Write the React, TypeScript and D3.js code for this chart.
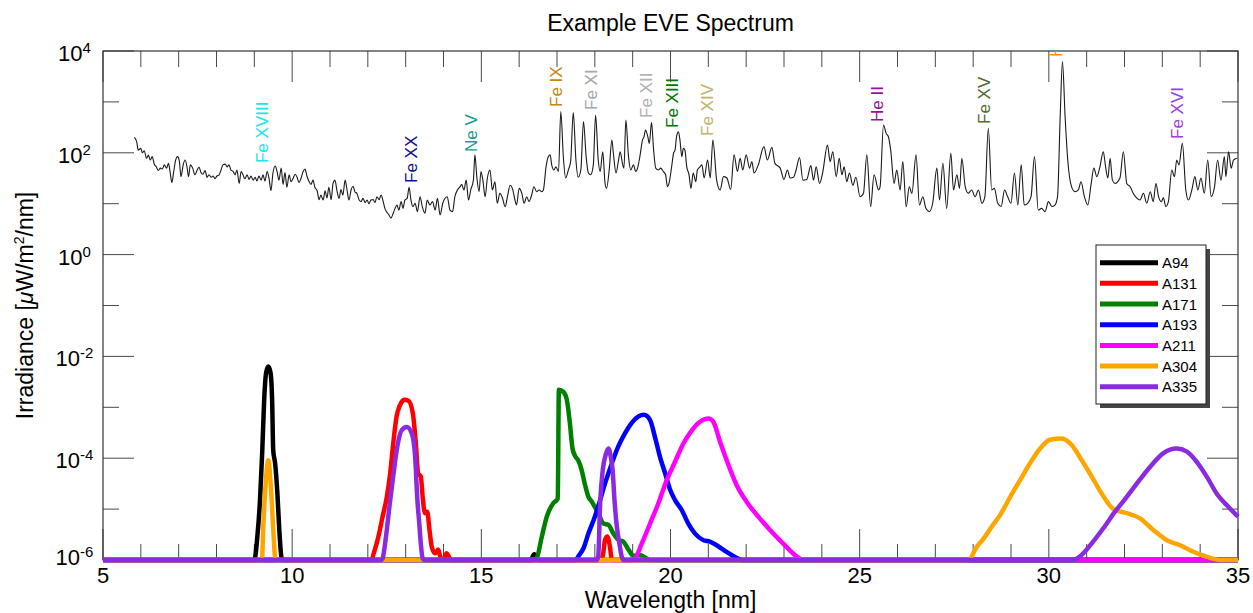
import React from 'react';
import * as d3 from 'd3';

const WIDTH = 1253;
const HEIGHT = 613;
const PLOT = { left: 103, right: 1238, top: 51, bottom: 560 };
const FONT = "'Liberation Sans', Arial, Helvetica, sans-serif";

const title = 'Example EVE Spectrum';
const xLabel = 'Wavelength [nm]';
const xDomain: [number, number] = [5, 35];
const yDomain: [number, number] = [1e-6, 1e4];
const xMajorTicks = [5, 10, 15, 20, 25, 30, 35];
const xMinorTicks = [6, 7, 8, 9, 11, 12, 13, 14, 16, 17, 18, 19, 21, 22, 23, 24, 26, 27, 28, 29, 31, 32, 33, 34];
const yMajorExponents = [4, 2, 0, -2, -4, -6];
const yMinorExponents = [3, 1, -1, -3, -5];

// EVE spectrum: [wavelength nm, irradiance uW/m^2/nm]
const spectrum: [number, number][] = [
  [5.83, 201], [5.89, 165], [5.93, 113], [6.0, 122], [6.04, 100], [6.09, 110], [6.15, 78], [6.2, 90], [6.25, 72], [6.3, 84],
  [6.36, 58], [6.41, 53], [6.46, 45], [6.52, 50], [6.57, 48], [6.62, 58], [6.68, 50], [6.73, 62], [6.78, 39], [6.82, 26],
  [6.87, 43], [6.92, 72], [6.97, 84], [7.02, 67], [7.06, 34], [7.12, 58], [7.17, 72], [7.22, 53], [7.26, 34], [7.31, 58],
  [7.37, 50], [7.43, 37], [7.49, 46], [7.54, 52], [7.59, 41], [7.64, 38], [7.7, 45], [7.75, 33], [7.8, 37], [7.86, 33],
  [7.91, 35], [7.96, 31], [8.01, 35], [8.07, 37], [8.12, 46], [8.17, 58], [8.23, 60], [8.28, 53], [8.33, 58], [8.38, 46],
  [8.44, 43], [8.49, 37], [8.54, 46], [8.6, 25], [8.65, 43], [8.7, 37], [8.75, 31], [8.81, 37], [8.86, 30], [8.91, 35],
  [8.97, 29], [9.02, 33], [9.07, 28], [9.12, 35], [9.18, 29], [9.23, 37], [9.28, 28], [9.34, 43], [9.39, 31], [9.44, 18],
  [9.49, 39], [9.55, 55], [9.6, 43], [9.65, 29], [9.71, 50], [9.76, 24], [9.81, 41], [9.86, 21], [9.92, 37], [9.97, 27],
  [10.02, 31], [10.08, 38], [10.13, 33], [10.18, 26], [10.23, 31], [10.29, 43], [10.34, 48], [10.39, 35], [10.45, 27], [10.5, 24],
  [10.55, 29], [10.6, 21], [10.66, 18], [10.71, 12], [10.76, 14.8], [10.82, 11.8], [10.87, 18], [10.92, 13], [10.97, 21], [11.03, 12],
  [11.08, 25], [11.13, 29], [11.19, 17], [11.24, 12.7], [11.29, 19], [11.34, 14.8], [11.4, 29], [11.45, 18.6], [11.5, 11.8], [11.56, 19],
  [11.61, 22], [11.66, 17], [11.71, 16], [11.77, 11.8], [11.82, 11], [11.87, 12.7], [11.93, 10.5], [11.98, 11.8], [12.03, 10], [12.08, 11.8],
  [12.14, 12], [12.19, 10.5], [12.24, 13.7], [12.3, 12], [12.35, 14.8], [12.4, 11.5], [12.45, 8.1], [12.51, 6.7], [12.56, 6.0], [12.61, 5.2],
  [12.67, 6.5], [12.72, 8.1], [12.77, 9.4], [12.82, 7.5], [12.88, 11], [12.93, 8.1], [12.98, 11.8], [13.04, 12.7], [13.09, 21], [13.14, 11.8],
  [13.19, 8.7], [13.25, 10.2], [13.31, 7.0], [13.38, 13.7], [13.44, 8.7], [13.51, 6.5], [13.57, 11.8], [13.64, 9.4], [13.71, 11], [13.78, 7.5],
  [13.84, 12.8], [13.91, 6.0], [13.98, 10.2], [14.04, 12.8], [14.1, 13.7], [14.17, 7.5], [14.24, 7.0], [14.3, 13.7], [14.37, 18.6], [14.44, 21.6],
  [14.48, 24], [14.54, 18.6], [14.6, 29], [14.66, 11.8], [14.72, 18.6], [14.79, 29], [14.83, 91], [14.88, 34], [14.94, 17.2], [14.99, 43],
  [15.04, 29], [15.1, 13.7], [15.16, 32], [15.23, 46], [15.29, 18.6], [15.36, 27], [15.42, 10.2], [15.49, 16], [15.56, 12.8], [15.63, 8.7],
  [15.69, 13.7], [15.76, 23], [15.82, 20], [15.89, 11.8], [15.93, 9.4], [16.0, 20], [16.07, 16], [16.13, 10.2], [16.2, 13.7], [16.26, 11],
  [16.33, 14.8], [16.39, 21.6], [16.46, 17.2], [16.53, 18.6], [16.6, 17.2], [16.64, 18.6], [16.71, 53], [16.77, 84], [16.82, 91], [16.86, 58],
  [16.92, 46], [16.97, 53], [17.04, 43], [17.1, 643], [17.17, 78], [17.23, 32], [17.3, 46], [17.36, 67], [17.43, 615], [17.5, 72],
  [17.56, 33], [17.63, 46], [17.7, 409], [17.77, 84], [17.83, 40], [17.89, 37], [17.96, 58], [18.02, 553], [18.09, 72], [18.14, 43],
  [18.21, 105], [18.27, 25], [18.31, 20], [18.38, 46], [18.45, 178], [18.49, 98], [18.56, 40], [18.62, 67], [18.67, 105], [18.73, 62],
  [18.77, 50], [18.82, 441], [18.89, 84], [18.95, 46], [19.02, 58], [19.08, 43], [19.13, 50], [19.19, 84], [19.26, 178], [19.3, 207],
  [19.34, 281], [19.4, 207], [19.44, 153], [19.5, 397], [19.55, 122], [19.61, 50], [19.68, 46], [19.74, 50], [19.81, 43], [19.87, 37],
  [19.92, 21.6], [19.97, 27], [20.03, 53], [20.08, 98], [20.12, 113], [20.16, 207], [20.21, 260], [20.25, 178], [20.3, 84], [20.34, 122],
  [20.38, 113], [20.43, 53], [20.49, 37], [20.54, 20], [20.6, 40], [20.67, 27], [20.71, 46], [20.78, 53], [20.83, 58], [20.89, 32],
  [20.98, 72], [21.05, 32], [21.12, 178], [21.22, 29], [21.31, 18.6], [21.4, 34], [21.49, 32], [21.59, 19], [21.68, 91], [21.77, 43],
  [21.84, 78], [21.91, 46], [22.0, 91], [22.09, 50], [22.15, 67], [22.21, 40], [22.32, 58], [22.47, 132], [22.56, 72], [22.68, 128],
  [22.76, 62], [22.9, 50], [23.0, 30], [23.09, 46], [23.16, 32], [23.25, 33], [23.32, 46], [23.41, 81], [23.5, 29], [23.6, 30],
  [23.71, 56], [23.78, 29], [23.85, 53], [23.94, 25], [24.02, 40], [24.15, 142], [24.22, 67], [24.29, 105], [24.38, 34], [24.46, 78],
  [24.53, 37], [24.59, 53], [24.66, 27], [24.73, 40], [24.82, 23], [24.9, 33], [25.01, 13.7], [25.1, 16], [25.19, 91], [25.29, 8.7],
  [25.38, 37], [25.5, 18.6], [25.54, 21.6], [25.63, 352], [25.7, 241], [25.76, 207], [25.82, 113], [25.91, 25], [25.98, 46], [26.07, 18.6],
  [26.14, 67], [26.23, 8.7], [26.31, 21.6], [26.38, 16], [26.49, 91], [26.58, 9.4], [26.67, 13.7], [26.75, 8.1], [26.84, 7.0], [26.93, 10.2],
  [27.04, 50], [27.11, 11.8], [27.2, 62], [27.3, 8.1], [27.41, 98], [27.48, 18.6], [27.57, 37], [27.64, 20], [27.7, 78], [27.79, 21.6],
  [27.87, 16], [27.96, 18.6], [28.05, 13.7], [28.14, 18.6], [28.23, 10.2], [28.31, 13.8], [28.4, 303], [28.49, 18.6], [28.56, 20], [28.65, 10.2],
  [28.74, 8.8], [28.83, 18.6], [28.91, 13.8], [29.0, 10.2], [29.09, 40], [29.18, 9.4], [29.27, 58], [29.35, 9.4], [29.44, 10.2], [29.53, 13.8],
  [29.62, 84], [29.72, 7.5], [29.81, 8.1], [29.9, 7.0], [29.99, 11], [30.08, 8.8], [30.16, 9.4], [30.23, 13.8], [30.3, 513], [30.36, 6180],
  [30.43, 513], [30.5, 72], [30.6, 21.6], [30.69, 17.2], [30.78, 18.6], [30.85, 27], [30.94, 13.8], [31.03, 9.4], [31.12, 25], [31.19, 50],
  [31.27, 34], [31.35, 53], [31.44, 105], [31.5, 53], [31.56, 32], [31.62, 78], [31.68, 29], [31.75, 25], [31.88, 32], [31.97, 105],
  [32.06, 25], [32.15, 21.6], [32.23, 16], [32.32, 13], [32.41, 11.8], [32.5, 16], [32.59, 10.2], [32.68, 17.2], [32.76, 11], [32.83, 25],
  [32.9, 13.8], [32.97, 11], [33.03, 13], [33.09, 8.8], [33.16, 11], [33.25, 46], [33.32, 34], [33.38, 72], [33.44, 58], [33.53, 153],
  [33.62, 18.6], [33.69, 11.8], [33.78, 18.6], [33.86, 34], [33.94, 18.6], [34.02, 32], [34.11, 16], [34.2, 72], [34.29, 13.8], [34.38, 21.6],
  [34.46, 72], [34.55, 29], [34.64, 84], [34.68, 34], [34.75, 105], [34.82, 50], [34.88, 72], [34.97, 78],
];

// Ion line annotations
const ionNames = ['Fe XVIII', 'Fe XX', 'Ne V', 'Fe IX', 'Fe XI', 'Fe XII', 'Fe XIII', 'Fe XIV', 'He II', 'Fe XV', 'He II', 'Fe XVI'];
const ionNm = [9.36, 13.3, 14.89, 17.13, 18.06, 19.51, 20.2, 21.12, 25.62, 28.45, 30.35, 33.55];
const ionIrr = [63, 25.5, 104, 794, 693, 483, 307, 214, 403, 368, 7620, 187];
const ionColors = ['#22e4ee', '#12128c', '#1a9c96', '#c8880e', '#a8a8a8', '#b2b2b2', '#067506', '#bdb76b', '#9a109a', '#556b2f', '#ff8c00', '#a040e4'];

// AIA channel responses: [wavelength nm, value]
const bandNames = ['A94', 'A131', 'A171', 'A193', 'A211', 'A304', 'A335'];
const bandColors = ['#000000', '#ff0000', '#008000', '#0000ff', '#ff00ff', '#ffa500', '#8a2be2'];

const a94: [number, number][] = [
  [5, 1e-6], [9.0, 1e-6], [9.08, 2.9e-6], [9.15, 1.5e-5], [9.21, 1.4e-4], [9.26, 1.4e-3], [9.31, 4.7e-3], [9.37, 6.3e-3],
  [9.43, 4.7e-3], [9.47, 1.4e-3], [9.5, 1.4e-4], [9.55, 7.9e-5], [9.61, 2.0e-5], [9.66, 3.9e-6], [9.72, 1.1e-6], [9.76, 1e-6],
  [16.3, 1e-6], [16.4, 1.3e-6], [16.5, 1e-6], [35, 1e-6],
];
const a131: [number, number][] = [
  [5, 1e-6], [12.1, 1e-6], [12.15, 1.3e-6], [12.28, 2.9e-6], [12.39, 7.1e-6], [12.5, 1.7e-5], [12.59, 5.0e-5], [12.67, 1.9e-4],
  [12.76, 6.6e-4], [12.85, 1.1e-3], [12.96, 1.4e-3], [13.07, 1.35e-3], [13.19, 7.6e-4], [13.27, 1.9e-4], [13.33, 5.0e-5],
  [13.4, 4.4e-5], [13.45, 1.7e-5], [13.51, 8.3e-6], [13.57, 8.9e-6], [13.63, 3.9e-6], [13.69, 1.8e-6], [13.78, 1.35e-6],
  [13.86, 1.6e-6], [13.93, 1.07e-6], [14.0, 1e-6], [14.08, 1.35e-6], [14.17, 1.07e-6], [14.25, 1e-6],
  [18.15, 1e-6], [18.21, 1.2e-6], [18.27, 2.5e-6], [18.33, 2.9e-6], [18.4, 1.8e-6], [18.45, 1e-6], [35, 1e-6],
];
const a171: [number, number][] = [
  [5, 1e-6], [16.4, 1e-6], [16.46, 1.07e-6], [16.6, 2.9e-6], [16.73, 7.1e-6], [16.9, 1.3e-5], [17.02, 1.6e-5], [17.05, 2.2e-3],
  [17.17, 2.0e-3], [17.26, 1.4e-3], [17.34, 4.9e-4], [17.41, 1.55e-4], [17.48, 1.1e-4], [17.56, 9.1e-5], [17.65, 5.9e-5],
  [17.74, 3.0e-5], [17.83, 1.74e-5], [17.92, 1.4e-5], [18.0, 1.1e-5], [18.09, 8.3e-6], [18.23, 5.2e-6], [18.36, 4.9e-6],
  [18.49, 3.3e-6], [18.62, 2.5e-6], [18.75, 2.3e-6], [18.89, 1.6e-6], [19.02, 1.2e-6], [19.2, 1.26e-6], [19.37, 1.07e-6],
  [19.45, 1e-6], [35, 1e-6],
];
const a193: [number, number][] = [
  [5, 1e-6], [17.5, 1e-6], [17.56, 1.17e-6], [17.7, 1.7e-6], [17.83, 3.3e-6], [18.0, 7.1e-6], [18.14, 1.5e-5], [18.27, 3.2e-5],
  [18.45, 7.9e-5], [18.62, 1.7e-4], [18.8, 3.1e-4], [18.97, 4.9e-4], [19.15, 6.6e-4], [19.3, 7.1e-4], [19.46, 5.6e-4],
  [19.59, 2.6e-4], [19.72, 1.07e-4], [19.86, 5.0e-5], [19.99, 2.4e-5], [20.12, 1.5e-5], [20.3, 9.5e-6], [20.47, 5.2e-6],
  [20.65, 3.3e-6], [20.87, 2.45e-6], [21.04, 2.3e-6], [21.22, 1.95e-6], [21.48, 1.45e-6], [21.79, 1.07e-6], [21.9, 1e-6], [35, 1e-6],
];
const a211: [number, number][] = [
  [5, 1e-6], [19.0, 1e-6], [19.06, 1.07e-6], [19.24, 2.1e-6], [19.46, 5.2e-6], [19.68, 1.3e-5], [19.9, 3.7e-5], [20.12, 8.5e-5],
  [20.34, 1.95e-4], [20.56, 3.5e-4], [20.78, 5.2e-4], [21.0, 6.0e-4], [21.13, 5.2e-4], [21.31, 2.1e-4], [21.53, 7.4e-5],
  [21.75, 2.95e-5], [22.01, 1.4e-5], [22.32, 7.1e-6], [22.63, 3.9e-6], [22.98, 2.1e-6], [23.34, 1.17e-6], [23.5, 1e-6], [35, 1e-6],
];
const a304: [number, number][] = [
  [5, 1e-6], [9.2, 1e-6], [9.24, 5.2e-6], [9.3, 3.2e-5], [9.37, 9.1e-5], [9.44, 2.5e-5], [9.5, 4.0e-6], [9.56, 1e-6],
  [27.9, 1e-6], [27.96, 1.16e-6], [28.05, 1.6e-6], [28.27, 2.6e-6], [28.49, 4.5e-6], [28.71, 7.6e-6], [28.98, 1.74e-5],
  [29.24, 3.7e-5], [29.5, 7.9e-5], [29.77, 1.55e-4], [30.03, 2.3e-4], [30.34, 2.45e-4], [30.61, 1.8e-4], [30.87, 9.1e-5],
  [31.13, 4.4e-5], [31.4, 2.0e-5], [31.71, 1.0e-5], [32.06, 8.3e-6], [32.41, 6.6e-6], [32.76, 3.9e-6], [33.12, 2.45e-6],
  [33.47, 1.95e-6], [33.82, 1.45e-6], [34.17, 1.16e-6], [34.53, 1.0e-6], [35, 1e-6],
];
const a335: [number, number][] = [
  [5, 1e-6], [12.35, 1e-6], [12.39, 1.07e-6], [12.48, 2.9e-6], [12.57, 1.1e-5], [12.67, 4.4e-5], [12.78, 1.7e-4], [12.89, 3.5e-4],
  [13.03, 4.1e-4], [13.16, 3.1e-4], [13.25, 1.07e-4], [13.31, 1.5e-5], [13.36, 5.2e-6], [13.4, 2.1e-6], [13.45, 1.07e-6], [13.5, 1e-6],
  [18.05, 1e-6], [18.09, 1.17e-6], [18.14, 1.3e-5], [18.21, 5.9e-5], [18.3, 1.26e-4], [18.36, 1.55e-4], [18.42, 1.07e-4],
  [18.47, 5.9e-5], [18.52, 1.5e-5], [18.58, 4.6e-6], [18.65, 2.1e-6], [18.71, 1.17e-6], [18.76, 1e-6],
  [30.65, 1e-6], [30.69, 1.02e-6], [30.87, 1.26e-6], [31.13, 2.1e-6], [31.44, 4.2e-6], [31.75, 8.9e-6], [32.06, 1.74e-5],
  [32.37, 3.5e-5], [32.68, 6.8e-5], [33.03, 1.26e-4], [33.38, 1.55e-4], [33.65, 1.35e-4], [33.91, 8.5e-5], [34.17, 4.4e-5],
  [34.44, 2.0e-5], [34.75, 1.1e-5], [35, 7.1e-6],
];
const bandData = [a94, a131, a171, a193, a211, a304, a335];

export default function App() {
  const x = d3.scaleLinear().domain(xDomain).range([PLOT.left, PLOT.right]);
  const y = d3.scaleLog().domain(yDomain).range([PLOT.bottom, PLOT.top]);
  const floor = yDomain[0];
  const line = d3
    .line<[number, number]>()
    .x((d) => x(d[0]))
    .y((d) => y(Math.max(floor, d[1])))
    .curve(d3.curveMonotoneX);

  const majorLen = 31;
  const minorLen = 16;
  const tickColor = '#4a4a4a';
  const plotW = PLOT.right - PLOT.left;
  const plotH = PLOT.bottom - PLOT.top;
  const cx = (PLOT.left + PLOT.right) / 2;
  const cy = (PLOT.top + PLOT.bottom) / 2;

  const legend = { x: 1096, y: 245, w: 110, h: 159, row0: 262.7, step: 20.67 };

  return (
    <svg
      width={WIDTH}
      height={HEIGHT}
      style={{ position: 'absolute', left: 0, top: 0, background: '#fff' }}
      fontFamily={FONT}
    >
      <defs>
        <clipPath id="plot-clip">
          <rect x={PLOT.left} y={PLOT.top} width={plotW} height={plotH} />
        </clipPath>
      </defs>
      <rect x={0} y={0} width={WIDTH} height={HEIGHT} fill="#fff" />

      <text x={cx} y={31} textAnchor="middle" fontSize={23} fill="#000">
        {title}
      </text>

      {/* ticks */}
      <g stroke={tickColor} strokeWidth={1}>
        {xMajorTicks.map((t) => (
          <g key={'xm' + t}>
            <line x1={x(t)} x2={x(t)} y1={PLOT.top} y2={PLOT.top + majorLen} />
            <line x1={x(t)} x2={x(t)} y1={PLOT.bottom} y2={PLOT.bottom - majorLen} />
          </g>
        ))}
        {xMinorTicks.map((t) => (
          <g key={'xn' + t}>
            <line x1={x(t)} x2={x(t)} y1={PLOT.top} y2={PLOT.top + minorLen} />
            <line x1={x(t)} x2={x(t)} y1={PLOT.bottom} y2={PLOT.bottom - minorLen} />
          </g>
        ))}
        {yMajorExponents.map((e) => (
          <g key={'ym' + e}>
            <line x1={PLOT.left} x2={PLOT.left + majorLen} y1={y(Math.pow(10, e))} y2={y(Math.pow(10, e))} />
            <line x1={PLOT.right} x2={PLOT.right - majorLen} y1={y(Math.pow(10, e))} y2={y(Math.pow(10, e))} />
          </g>
        ))}
        {yMinorExponents.map((e) => (
          <g key={'yn' + e}>
            <line x1={PLOT.left} x2={PLOT.left + minorLen} y1={y(Math.pow(10, e))} y2={y(Math.pow(10, e))} />
            <line x1={PLOT.right} x2={PLOT.right - minorLen} y1={y(Math.pow(10, e))} y2={y(Math.pow(10, e))} />
          </g>
        ))}
      </g>
      <rect x={PLOT.left} y={PLOT.top} width={plotW} height={plotH} fill="none" stroke="#333" strokeWidth={1.2} />

      {/* tick labels */}
      {xMajorTicks.map((t) => (
        <text key={'xl' + t} x={x(t)} y={583} textAnchor="middle" fontSize={22} fill="#000">
          {t}
        </text>
      ))}
      {yMajorExponents.map((e, i) => (
        <text
          key={'yl' + e}
          x={74.5}
          y={y(Math.pow(10, e)) + (i === yMajorExponents.length - 1 ? 5 : 10)}
          textAnchor="middle"
          fontSize={22}
          fill="#000"
        >
          10
          <tspan dy={-8} fontSize={15}>
            {e}
          </tspan>
        </text>
      ))}

      {/* spectrum */}
      <g clipPath="url(#plot-clip)">
        <path d={line(spectrum) || ''} fill="none" stroke="#1a1a1a" strokeWidth={1.1} strokeLinejoin="round" />
        {ionNames.map((n, i) => (
          <text
            key={'ion' + i}
            transform={`translate(${x(ionNm[i])},${y(ionIrr[i])}) rotate(-90)`}
            fontSize={17}
            fill={ionColors[i]}
          >
            {n}
          </text>
        ))}
      </g>

      {/* AIA responses */}
      {bandData.map((d, i) => (
        <path
          key={bandNames[i]}
          d={line(d) || ''}
          fill="none"
          stroke={bandColors[i]}
          strokeWidth={4.5}
          strokeLinejoin="round"
        />
      ))}

      {/* legend */}
      <rect x={legend.x + 4} y={legend.y + 4} width={legend.w} height={legend.h} fill="#444" />
      <rect x={legend.x} y={legend.y} width={legend.w} height={legend.h} fill="#fff" stroke="#222" strokeWidth={1} />
      {bandNames.map((n, i) => (
        <g key={'lg' + n}>
          <line
            x1={legend.x + 4}
            x2={legend.x + 62}
            y1={legend.row0 + i * legend.step}
            y2={legend.row0 + i * legend.step}
            stroke={bandColors[i]}
            strokeWidth={5}
          />
          <text x={legend.x + 66} y={legend.row0 + i * legend.step + 5.5} fontSize={15} fill="#000">
            {n}
          </text>
        </g>
      ))}

      {/* axis labels */}
      <text x={cx} y={608} textAnchor="middle" fontSize={23} fill="#000">
        {xLabel}
      </text>
      <text transform={`translate(33,${cy}) rotate(-90)`} textAnchor="middle" fontSize={23} fill="#000">
        Irradiance [<tspan fontStyle="italic">μ</tspan>W/m
        <tspan dy={-9} fontSize={14}>
          2
        </tspan>
        <tspan dy={9}>/nm]</tspan>
      </text>
    </svg>
  );
}
